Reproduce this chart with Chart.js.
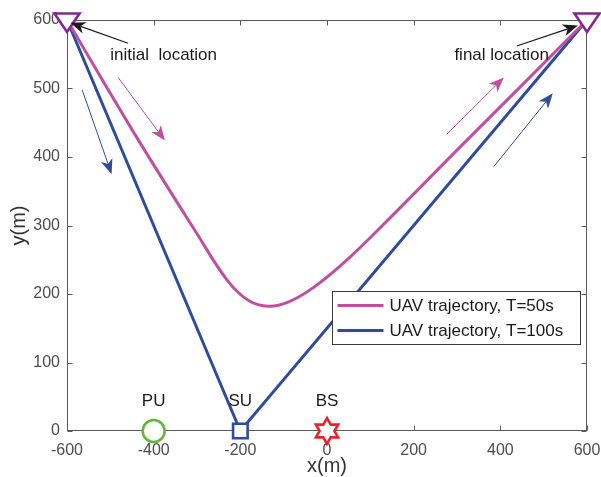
<!DOCTYPE html>
<html>
<head>
<meta charset="utf-8">
<script src="https://cdn.jsdelivr.net/npm/chart.js@4.4.0/dist/chart.umd.min.js"></script>
<style>
  html, body { margin: 0; padding: 0; background: #fff; }
</style>
</head>
<body>
<canvas id="chart" width="601" height="477"></canvas>
<script>
const FONT = '"Liberation Sans", Arial, Helvetica, sans-serif';
const MAGENTA = '#c0509f';
const BLUE = '#2f4b9f';
const PURPLE = '#82288f';

// UAV trajectory, T=50s
const magX = [-600, -450, -300, -230, -180, -135, -90, -30, 50, 150, 300, 450, 600];
const magY = [600, 440, 288, 220, 190, 182, 188, 210, 252, 314, 410, 505, 600];

// UAV trajectory, T=100s
const blueX = [-600, -200, 600];
const blueY = [600, 0, 600];

// node positions
const endX = [-600, 600];
const endY = [600, 600];
const puX = [-400], puY = [0];
const suX = [-200], suY = [0];
const bsX = [0], bsY = [0];

const xTicks = [-600, -400, -200, 0, 200, 400, 600];
const yTicks = [0, 100, 200, 300, 400, 500, 600];

const seriesLabels = ['UAV trajectory, T=50s', 'UAV trajectory, T=100s'];

// annotations, in data units
const nodeLabels = [
  { text: 'PU', x: -400, y: 44 },
  { text: 'SU', x: -200, y: 44 },
  { text: 'BS', x: 0, y: 44 }
];
const noteTexts = [
  { text: 'initial  location', x: -377, y: 542 },
  { text: 'final location', x: 403, y: 541 }
];
const arrows = [
  { from: [-459, 566], to: [-592, 596], color: '#1a1a1a', lw: 1.2 },
  { from: [438, 562], to: [579, 592], color: '#1a1a1a', lw: 1.2 },
  { from: [-482, 516], to: [-374, 424], color: MAGENTA, lw: 1 },
  { from: [276, 433], to: [408, 516], color: MAGENTA, lw: 1 },
  { from: [-565, 498], to: [-497, 375], color: BLUE, lw: 1 },
  { from: [385, 386], to: [521, 493], color: BLUE, lw: 1 }
];

function toPoints(xs, ys) {
  return xs.map((x, i) => ({ x: x, y: ys[i] }));
}

function makeTriangle() {
  const c = document.createElement('canvas');
  c.width = 34; c.height = 40;
  const g = c.getContext('2d');
  g.lineWidth = 2.6;
  g.lineJoin = 'miter';
  g.strokeStyle = PURPLE;
  g.fillStyle = '#fff';
  g.beginPath();
  g.moveTo(17 - 12.5, 20 - 6.5);
  g.lineTo(17 + 12.5, 20 - 6.5);
  g.lineTo(17, 20 + 12);
  g.closePath();
  g.fill();
  g.stroke();
  return c;
}

function makeHexagram() {
  const c = document.createElement('canvas');
  c.width = 32; c.height = 32;
  const g = c.getContext('2d');
  const R = 12.8, r = R / Math.sqrt(3);
  g.beginPath();
  for (let i = 0; i < 12; i++) {
    const a = -Math.PI / 2 + i * Math.PI / 6;
    const rr = i % 2 === 0 ? R : r;
    const px = 16 + rr * Math.cos(a), py = 16 + rr * Math.sin(a);
    if (i === 0) g.moveTo(px, py); else g.lineTo(px, py);
  }
  g.closePath();
  g.fillStyle = '#fff';
  g.fill();
  g.lineWidth = 2.6;
  g.lineJoin = 'miter';
  g.strokeStyle = '#e8232a';
  g.stroke();
  return c;
}

function drawArrow(ctx, x0, y0, x1, y1, color, lw) {
  const headLen = 15, headW = 12;
  const ang = Math.atan2(y1 - y0, x1 - x0);
  const c = Math.cos(ang), s = Math.sin(ang);
  const bx = x1 - headLen * c, by = y1 - headLen * s;
  const nx = x1 - headLen * 0.72 * c, ny = y1 - headLen * 0.72 * s;
  ctx.save();
  ctx.strokeStyle = color;
  ctx.fillStyle = color;
  ctx.lineWidth = lw;
  ctx.beginPath();
  ctx.moveTo(x0, y0);
  ctx.lineTo(nx, ny);
  ctx.stroke();
  ctx.beginPath();
  ctx.moveTo(x1, y1);
  ctx.lineTo(bx - s * headW / 2, by + c * headW / 2);
  ctx.lineTo(nx, ny);
  ctx.lineTo(bx + s * headW / 2, by - c * headW / 2);
  ctx.closePath();
  ctx.fill();
  ctx.restore();
}

// MATLAB style box with inward ticks
const framePlugin = {
  id: 'frame',
  beforeDatasetsDraw(chart) {
    const { ctx, chartArea: a, scales } = chart;
    const L = Math.round(a.left) + 0.5, R = Math.round(a.right) - 0.5;
    const T = Math.round(a.top) + 0.5, B = Math.round(a.bottom) - 0.5;
    ctx.save();
    ctx.strokeStyle = '#5a5a5a';
    ctx.lineWidth = 1;
    ctx.strokeRect(L, T, R - L, B - T);
    ctx.beginPath();
    scales.x.ticks.forEach(t => {
      const px = Math.round(scales.x.getPixelForValue(t.value)) + 0.5;
      ctx.moveTo(px, B); ctx.lineTo(px, B - 5);
      ctx.moveTo(px, T); ctx.lineTo(px, T + 5);
    });
    scales.y.ticks.forEach(t => {
      const py = Math.round(scales.y.getPixelForValue(t.value)) + 0.5;
      ctx.moveTo(L, py); ctx.lineTo(L + 5, py);
      ctx.moveTo(R, py); ctx.lineTo(R - 5, py);
    });
    ctx.stroke();
    ctx.restore();
  }
};

const annotationPlugin = {
  id: 'notes',
  afterDatasetsDraw(chart) {
    const { ctx, chartArea: a, scales } = chart;
    const xs = scales.x, ys = scales.y;
    ctx.save();
    ctx.font = '17px ' + FONT;
    ctx.fillStyle = '#1a1a1a';
    ctx.textAlign = 'center';
    ctx.textBaseline = 'alphabetic';
    noteTexts.forEach(n => ctx.fillText(n.text, xs.getPixelForValue(n.x), ys.getPixelForValue(n.y)));
    ctx.textBaseline = 'middle';
    nodeLabels.forEach(n => ctx.fillText(n.text, xs.getPixelForValue(n.x), ys.getPixelForValue(n.y)));
    arrows.forEach(ar => drawArrow(ctx,
      xs.getPixelForValue(ar.from[0]), ys.getPixelForValue(ar.from[1]),
      xs.getPixelForValue(ar.to[0]), ys.getPixelForValue(ar.to[1]),
      ar.color, ar.lw));

    // legend box
    const bw = 248, bh = 53;
    const bx = Math.round(a.right) - 7 - bw + 0.5;
    const by = Math.round(a.top) + 271 + 0.5;
    ctx.fillStyle = '#fff';
    ctx.fillRect(bx, by, bw, bh);
    ctx.strokeStyle = '#3c3c3c';
    ctx.lineWidth = 1;
    ctx.strokeRect(bx, by, bw, bh);
    const colors = [MAGENTA, BLUE];
    seriesLabels.forEach((lab, i) => {
      const cy = by + 14 + i * 25;
      ctx.strokeStyle = colors[i];
      ctx.lineWidth = 3;
      ctx.beginPath();
      ctx.moveTo(bx + 5, cy);
      ctx.lineTo(bx + 51, cy);
      ctx.stroke();
      ctx.fillStyle = '#1a1a1a';
      ctx.textAlign = 'left';
      ctx.textBaseline = 'middle';
      ctx.fillText(lab, bx + 57, cy + 1);
    });
    ctx.restore();
  }
};

new Chart(document.getElementById('chart'), {
  type: 'scatter',
  data: {
    datasets: [
      {
        label: seriesLabels[0],
        data: toPoints(magX, magY),
        showLine: true,
        borderColor: MAGENTA,
        borderWidth: 3,
        pointRadius: 0,
        tension: 0.4,
        clip: false,
        order: 3
      },
      {
        label: seriesLabels[1],
        data: toPoints(blueX, blueY),
        showLine: true,
        borderColor: BLUE,
        borderWidth: 3,
        pointRadius: 0,
        tension: 0,
        clip: false,
        order: 4
      },
      {
        label: 'start/end',
        data: toPoints(endX, endY),
        pointStyle: makeTriangle(),
        pointRadius: 16,
        clip: false,
        order: 1
      },
      {
        label: 'PU',
        data: toPoints(puX, puY),
        pointStyle: 'circle',
        pointRadius: 11,
        borderWidth: 2.6,
        borderColor: '#63b83a',
        backgroundColor: '#fff',
        clip: false,
        order: 1
      },
      {
        label: 'SU',
        data: toPoints(suX, suY),
        pointStyle: 'rect',
        pointRadius: 10.3,
        borderWidth: 2.6,
        borderColor: BLUE,
        backgroundColor: '#fff',
        clip: false,
        order: 1
      },
      {
        label: 'BS',
        data: toPoints(bsX, bsY),
        pointStyle: makeHexagram(),
        pointRadius: 16,
        clip: false,
        order: 1
      }
    ]
  },
  options: {
    responsive: false,
    animation: false,
    events: [],
    layout: { autoPadding: false, padding: { top: 20, right: 14, bottom: 0, left: 0 } },
    plugins: { legend: { display: false }, tooltip: { enabled: false } },
    scales: {
      x: {
        type: 'linear',
        min: -600, max: 600,
        afterFit: s => { s.height = 46; s.paddingLeft = 0; s.paddingRight = 0; },
        afterBuildTicks: s => { s.ticks = xTicks.map(v => ({ value: v })); },
        grid: { display: false, drawTicks: false },
        border: { display: false },
        ticks: { padding: 10, color: '#4d4d4d', font: { family: FONT, size: 16 } },
        title: { display: true, text: 'x(m)', color: '#333', padding: { top: 0, bottom: -1 }, font: { family: FONT, size: 20 } }
      },
      y: {
        type: 'linear',
        min: 0, max: 600,
        afterFit: s => { s.width = 67; s.paddingTop = 0; s.paddingBottom = 0; },
        afterBuildTicks: s => { s.ticks = yTicks.map(v => ({ value: v })); },
        grid: { display: false, drawTicks: false },
        border: { display: false },
        ticks: { padding: 7, color: '#4d4d4d', font: { family: FONT, size: 16 } },
        title: { display: true, text: 'y(m)', color: '#333', padding: { top: 7, bottom: 0 }, font: { family: FONT, size: 20 } }
      }
    }
  },
  plugins: [framePlugin, annotationPlugin]
});
</script>
</body>
</html>
